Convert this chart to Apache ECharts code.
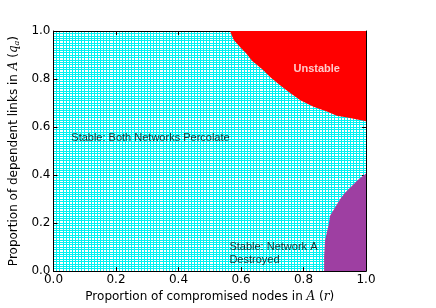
<!DOCTYPE html>
<html>
<head>
<meta charset="utf-8">
<script src="https://cdn.jsdelivr.net/npm/echarts@6/dist/echarts.min.js"></script>
<style>
html,body{margin:0;padding:0;background:#fff;}
#c{width:436px;height:308px;}
</style>
</head>
<body>
<div id="c"></div>
<script>
// Boundary of the "Unstable" region (r, q_a) – region lies above this curve
var unstableR = [0.565, 0.577, 0.599, 0.615, 0.636, 0.668, 0.694, 0.726, 0.753, 0.790, 0.832, 0.875, 0.907, 0.949, 1.0];
var unstableQ = [1.0, 0.963, 0.930, 0.909, 0.875, 0.841, 0.807, 0.773, 0.746, 0.712, 0.685, 0.665, 0.647, 0.638, 0.624];
// Boundary of the "Network A destroyed" region – region lies below this curve
var destroyedR = [0.866, 0.866, 0.869, 0.880, 0.885, 0.901, 0.917, 0.933, 0.954, 0.975, 1.0];
var destroyedQ = [0.0, 0.060, 0.129, 0.190, 0.231, 0.265, 0.299, 0.326, 0.353, 0.380, 0.407];
var tickValues = [0, 0.2, 0.4, 0.6, 0.8, 1.0];
var tickLabels = ['0.0', '0.2', '0.4', '0.6', '0.8', '1.0'];
// Region annotations
var noteText = ['Unstable', 'Stable: Both Networks Percolate', 'Stable: Network A\nDestroyed'];
var noteR = [0.768, 0.057, 0.563];
var noteQ = [0.841, 0.556, 0.0735];

function pair(xs, ys){ return xs.map(function(x,i){ return [x, ys[i]]; }); }
function fmt(v){
  for (var i=0;i<tickValues.length;i++){ if (Math.abs(tickValues[i]-v)<1e-9) return tickLabels[i]; }
  return '';
}
var FONT = 'DejaVu Sans';
var meshLine = {show:true, lineStyle:{color:'#00f2f2', width:1, opacity:1}};

function mainAxis(extra){
  var a = {
    type:'value', min:0, max:1, interval:0.2,
    axisLine:{show:true, onZero:false, lineStyle:{color:'#000', width:1}},
    axisTick:{show:true, inside:true, length:4, lineStyle:{color:'#000'}},
    axisLabel:{show:true, formatter:fmt, color:'#000', fontFamily:FONT, fontSize:12, margin:3},
    splitLine:meshLine,
    minorTick:{show:false, splitNumber:20},
    minorSplitLine:meshLine
  };
  for (var k in extra) a[k]=extra[k];
  return a;
}
function frameAxis(pos){
  return {
    type:'value', min:0, max:1, interval:0.2, position:pos,
    axisLine:{show:true, onZero:false, lineStyle:{color:'#000', width:1}},
    axisTick:{show:true, inside:true, length:4, lineStyle:{color:'#000'}},
    axisLabel:{show:false}, splitLine:{show:false}
  };
}

var chart = echarts.init(document.getElementById('c'), null, {renderer:'canvas'});
chart.setOption({
  animation:false,
  backgroundColor:'#fff',
  grid:{left:52, right:70, top:31, bottom:31, containLabel:false, backgroundColor:'#fff', show:true, borderWidth:0},
  xAxis:[
    mainAxis({position:'bottom', name:'Proportion of compromised nodes in {i|A} ({i|r})', nameLocation:'middle', nameGap:16,
      nameTextStyle:{color:'#000', fontFamily:FONT, fontSize:12, rich:{i:{fontFamily:'DejaVu Serif', fontStyle:'italic', fontSize:12, color:'#000'}}}}),
    frameAxis('top')
  ],
  yAxis:[
    mainAxis({position:'left', name:'Proportion of dependent links in {i|A} ({i|q}{sub|a})', nameLocation:'middle', nameGap:25,
      nameTextStyle:{color:'#000', fontFamily:FONT, fontSize:12, rich:{i:{fontFamily:'DejaVu Serif', fontStyle:'italic', fontSize:12, color:'#000'}, sub:{fontFamily:'DejaVu Serif', fontStyle:'italic', fontSize:8, color:'#000', padding:[5,0,0,0]}}}}),
    frameAxis('right')
  ],
  series:[
    {
      type:'line', name:'Unstable', xAxisIndex:0, yAxisIndex:0,
      data:pair(unstableR, unstableQ), showSymbol:false, symbol:'none',
      lineStyle:{width:0, opacity:0},
      areaStyle:{origin:'end', color:'#ff0000', opacity:1},
      z:3, silent:true
    },
    {
      type:'line', name:'Destroyed', xAxisIndex:0, yAxisIndex:0,
      data:pair(destroyedR, destroyedQ), showSymbol:false, symbol:'none',
      lineStyle:{width:0, opacity:0},
      areaStyle:{origin:'start', color:'#9e3fa2', opacity:1},
      z:3, silent:true
    },
    {
      type:'scatter', name:'notes', xAxisIndex:0, yAxisIndex:0, symbolSize:1,
      itemStyle:{color:'rgba(0,0,0,0)'}, z:5, silent:true,
      data:noteText.map(function(t,i){
        var bold = (i===0);
        return {
          value:[noteR[i], noteQ[i]],
          label:{show:true, formatter:t, position:'inside', align:'left', verticalAlign:'middle',
            color: bold ? '#fff' : '#000', fontWeight: bold ? 'bold' : 'normal',
            fontFamily:'Liberation Sans', fontSize:11, lineHeight:13}
        };
      })
    }
  ]
});
</script>
</body>
</html>
